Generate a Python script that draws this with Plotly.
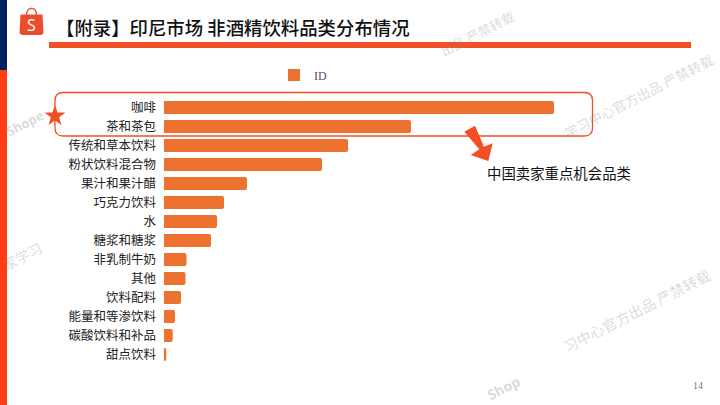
import math
import plotly.graph_objects as go

W, H = 720, 405

categories = ["咖啡", "茶和茶包", "传统和草本饮料", "粉状饮料混合物", "果汁和果汁醋", "巧克力饮料", "水",
              "糖浆和糖浆", "非乳制牛奶", "其他", "饮料配料", "能量和等渗饮料", "碳酸饮料和补品", "甜点饮料"]
values = [39.0, 24.7, 18.4, 15.8, 8.3, 6.0, 5.3, 4.7, 2.25, 2.15, 1.7, 1.1, 0.87, 0.23]
series_name = "ID"
title_text = "【附录】印尼市场 非酒精饮料品类分布情况"
callout_text = "中国卖家重点机会品类"
page_number = "14"

CJK = "Noto Sans CJK SC"
BAR = "#ED7230"
RED = "#F25024"


def px(x):
    return x / W


def py(y):
    return 1 - y / H


def poly(points):
    return "M " + " L ".join(f"{px(x):.5f},{py(y):.5f}" for x, y in points) + " Z"


def rect(x0, y0, x1, y1, color):
    return dict(type="rect", xref="paper", yref="paper", x0=px(x0), x1=px(x1), y0=py(y1), y1=py(y0),
                fillcolor=color, line_width=0, layer="above")


def star(cx, cy, r_out, r_in):
    pts = []
    for i in range(10):
        r = r_out if i % 2 == 0 else r_in
        a = math.radians(-90 + 36 * i)
        pts.append((cx + r * math.cos(a), cy + r * math.sin(a)))
    return poly(pts)


def round_rect(x0, y0, x1, y1, r):
    X0, X1, Y0, Y1 = px(x0), px(x1), py(y0), py(y1)
    rx, ry = r / W, r / H
    return (f"M {X0+rx},{Y0} L {X1-rx},{Y0} Q {X1},{Y0} {X1},{Y0-ry} L {X1},{Y1+ry} Q {X1},{Y1} {X1-rx},{Y1} "
            f"L {X0+rx},{Y1} Q {X0},{Y1} {X0},{Y1+ry} L {X0},{Y0-ry} Q {X0},{Y0} {X0+rx},{Y0} Z")


fig = go.Figure()
fig.add_trace(go.Bar(x=values, y=categories, orientation="h", marker=dict(color=BAR, line_width=0),
                     width=0.68, showlegend=False, hoverinfo="skip"))
fig.add_trace(go.Scatter(x=[None], y=[None], mode="markers", name=series_name,
                         marker=dict(symbol="square", size=12, color=BAR)))

shapes = [
    rect(0, 0, 7, 70, "#00205F"),
    rect(0, 70, 7, 405, "#FF3D14"),
    rect(49, 42, 691, 48, RED),
    dict(type="path", xref="paper", yref="paper", path=round_rect(55, 92.5, 592.5, 136, 8),
         line=dict(color=RED, width=1.3), fillcolor="rgba(0,0,0,0)", layer="above"),
    dict(type="path", xref="paper", yref="paper", path=star(55, 116, 11, 4.4),
         fillcolor=RED, line_width=0, layer="above"),
    dict(type="path", xref="paper", yref="paper",
         path=poly([(475, 125.7), (484, 146.7), (492.7, 143.3), (488.3, 161), (470.7, 155), (479.3, 149.3), (464.3, 131.7)]),
         fillcolor=RED, line_width=0, layer="above"),
    dict(type="path", xref="paper", yref="paper",
         path=poly([(20.5, 14.5), (42.5, 14.5), (43.5, 33), (41.5, 35), (21.5, 35), (19.5, 33)]),
         fillcolor="#EE4D2D", line_width=0, layer="above"),
    dict(type="path", xref="paper", yref="paper",
         path=f"M {px(26.5)},{py(15)} Q {px(27)},{py(8)} {px(31.5)},{py(8.5)} Q {px(36)},{py(8)} {px(36.5)},{py(15)}",
         line=dict(color="#EE4D2D", width=1.4), fillcolor="rgba(0,0,0,0)", layer="above"),
]

WM = "rgba(140,140,140,0.33)"


def label(text, x, y, size, color="#1a1a1a", family=CJK, anchor="left", angle=0, bold=False):
    return dict(text=f"<b>{text}</b>" if bold else text, x=px(x), y=py(y), xref="paper", yref="paper",
                xanchor=anchor, yanchor="middle", showarrow=False, textangle=angle,
                font=dict(size=size, color=color, family=family))


annotations = [
    label(title_text, 53.5, 27, 18.4, color="#111111", family="Noto Sans CJK SC Medium, " + CJK),
    label(callout_text, 485, 172, 14.4, color="#111111"),
    label(page_number, 698, 385, 10, color="#777777", family="Liberation Serif", anchor="center"),
    label("S", 31.5, 25, 16, color="white", family="Open Sans", anchor="center"),
    label("Shope", 25, 123, 13, color=WM, family="Open Sans", anchor="center", angle=-27, bold=True),
    label("学习中心官方出品 严禁转载", 638, 96, 13.5, color=WM, anchor="center", angle=-27),
    label("出品 严禁转载", 477, 34, 13, color=WM, anchor="center", angle=-27),
    label("家学习", 22, 256, 14, color=WM, anchor="center", angle=-27),
    label("习中心官方出品 严禁转载", 636, 310, 14.5, color=WM, anchor="center", angle=-27),
    label("Shop", 504, 387, 14, color=WM, family="Open Sans", anchor="center", angle=-27, bold=True),
]

fig.update_layout(
    width=W, height=H, margin=dict(l=0, r=0, t=0, b=0), paper_bgcolor="white", plot_bgcolor="white",
    xaxis=dict(domain=[px(164), px(564)], range=[0, 40], visible=False, fixedrange=True),
    yaxis=dict(domain=[py(364), py(98)], type="category", categoryorder="array", categoryarray=categories,
               autorange="reversed", showgrid=False, showline=False, ticks="", ticklabelstandoff=7,
               tickfont=dict(size=12.5, color="#222222", family=CJK), fixedrange=True),
    legend=dict(orientation="h", x=px(274), y=py(75), xanchor="left", yanchor="middle",
                font=dict(size=12, color="#555555", family="Liberation Serif"), bgcolor="rgba(0,0,0,0)"),
    bargap=0.32, barcornerradius=2,
    shapes=shapes, annotations=annotations,
)

fig.write_html("out.html", post_script="document.body.style.margin='0';", config={"displayModeBar": False})
